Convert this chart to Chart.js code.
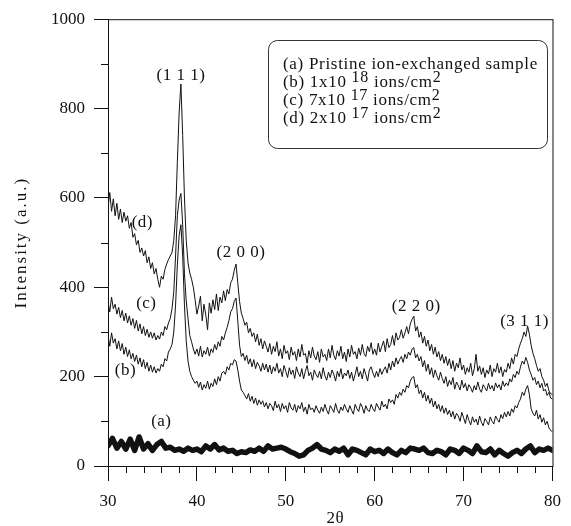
<!DOCTYPE html>
<html>
<head>
<meta charset="utf-8">
<script src="https://cdn.jsdelivr.net/npm/chart.js@4.4.0/dist/chart.umd.min.js"></script>
<style>
  html, body { margin: 0; padding: 0; background: #fff; }
</style>
</head>
<body>
<canvas id="xrd" width="571" height="526"></canvas>
<script>
// 2theta grid (deg): thin curves every 0.2, thick curve (a) every 0.5
const thetaStart = 30;
const thetaStep = 0.2;
const thetaStepA = 0.5;

// (d) 2x10^17 ions/cm2, one row per degree
const curveD = [
  578, 612, 570, 598, 560,
  588, 552, 575, 545, 568,
  548, 560, 532, 545, 512,
  520, 495, 505, 478, 488,
  470, 482, 455, 468, 442,
  455, 430, 442, 418, 400,
  425, 418, 440, 452, 462,
  470, 478, 505, 560, 680,
  790, 855, 740, 600, 505,
  455, 432, 418, 400, 372,
  340, 358, 380, 325, 362,
  338, 305, 365, 342, 372,
  350, 385, 348, 378, 365,
  392, 370, 395, 385, 410,
  418, 438, 452, 410, 368,
  342, 330, 315, 322, 298,
  308, 290, 298, 278, 295,
  270, 285, 262, 280, 268,
  255, 274, 250, 268, 256,
  278, 246, 262, 240, 270,
  252, 258, 238, 266, 248,
  256, 236, 262, 244, 272,
  248, 252, 230, 258, 242,
  266, 246, 238, 256, 232,
  262, 244, 250, 236, 262,
  242, 270, 248, 238, 258,
  246, 268, 240, 255, 234,
  262, 244, 270, 250, 256,
  240, 264, 248, 272, 252,
  245, 268, 256, 276, 250,
  262, 248, 275, 255, 268,
  280, 256, 285, 265, 272,
  292, 270, 298, 282, 288,
  305, 286, 298, 312, 296,
  318, 328, 335, 302, 312,
  288, 300, 275, 290, 268,
  282, 258, 272, 250, 266,
  244, 256, 236, 250, 230,
  245, 225, 240, 218, 236,
  212, 230, 220, 242, 215,
  226, 205, 220, 210, 230,
  202, 218, 250, 212, 224,
  205, 220, 198, 215, 206,
  226, 200, 218, 210, 230,
  208, 222, 200, 216, 210,
  230, 218, 242, 228, 250,
  245, 262, 275, 285, 300,
  290, 313, 295, 270, 252,
  240, 225, 212, 218, 200,
  192, 178, 185, 168, 162,
  160
];

// (c) 7x10^17 ions/cm2
const curveC = [
  368, 345, 378, 352, 362,
  340, 355, 332, 348, 325,
  342, 320, 336, 315, 330,
  308, 326, 302, 318, 296,
  312, 292, 306, 288, 300,
  286, 298, 282, 292, 284,
  300, 292, 312, 305, 320,
  330, 352, 390, 470, 560,
  595, 610, 540, 430, 370,
  330, 292, 278, 262, 250,
  262, 246, 268, 244, 258,
  250, 266, 246, 262, 254,
  272, 260, 278, 268, 290,
  282, 298, 310, 325, 345,
  352, 368, 376, 325, 270,
  245, 252, 236, 248, 228,
  240, 222, 238, 218, 232,
  224, 212, 230, 215, 228,
  210, 226, 206, 222, 212,
  230, 208, 218, 200, 225,
  212, 198, 220, 205, 215,
  196, 222, 208, 200, 218,
  195, 212, 225, 202, 210,
  192, 215, 205, 198, 212,
  195, 220, 202, 192, 210,
  198, 215, 205, 190, 212,
  200, 218, 195, 208, 202,
  215, 196, 210, 190, 205,
  222, 200, 212, 195, 218,
  205, 190, 215, 222, 208,
  198, 212, 200, 218, 205,
  215, 222, 208, 230, 215,
  235, 222, 242, 228, 238,
  245, 232, 250, 240, 255,
  248, 262, 265, 242, 250,
  235, 245, 222, 236, 212,
  228, 205, 220, 198, 215,
  202, 192, 210, 196, 185,
  200, 178, 192, 182, 198,
  172, 188, 180, 170, 192,
  175, 185, 168, 182, 175,
  165, 180, 170, 188, 172,
  165, 182, 175, 168, 185,
  172, 180, 168, 186, 175,
  182, 170, 190, 178, 186,
  180, 195, 188, 205, 198,
  212, 205, 222, 235, 228,
  243, 232, 215, 205, 192,
  198, 182, 190, 175, 185,
  168, 172, 158, 165, 152,
  150
];

// (b) 1x10^18 ions/cm2
const curveB = [
  292, 268, 298, 275, 285,
  262, 280, 258, 274, 250,
  266, 245, 260, 240, 252,
  234, 248, 228, 242, 222,
  238, 218, 232, 212, 226,
  210, 222, 208, 218, 212,
  228, 222, 240, 235, 255,
  262, 272, 300, 360, 450,
  515, 540, 470, 360, 280,
  235, 212, 200, 192, 185,
  190, 176, 188, 170, 182,
  174, 190, 172, 185, 178,
  195, 182, 200, 190, 208,
  212, 205, 222, 215, 230,
  226, 238, 235, 215, 190,
  170, 165, 158, 150, 162,
  145, 156, 140, 152, 136,
  148, 138, 146, 132, 142,
  128, 140, 135, 124, 145,
  130, 138, 122, 140, 128,
  135, 120, 142, 130, 125,
  138, 120, 135, 128, 142,
  122, 132, 116, 138, 126,
  130, 120, 135, 125, 118,
  132, 122, 138, 125, 116,
  135, 128, 120, 140, 125,
  118, 132, 124, 138, 128,
  120, 135, 125, 116, 138,
  128, 122, 140, 132, 118,
  135, 125, 122, 138, 128,
  122, 140, 132, 125, 145,
  132, 138, 128, 150, 142,
  148, 138, 160, 152, 165,
  158, 172, 165, 180, 175,
  190, 198, 200, 175, 182,
  162, 170, 152, 165, 145,
  158, 140, 152, 132, 145,
  128, 138, 122, 135, 118,
  130, 115, 125, 110, 122,
  105, 118, 112, 100, 120,
  108, 95, 115, 102, 92,
  110, 98, 105, 92, 112,
  98, 90, 106, 100, 92,
  110, 100, 94, 112, 104,
  98, 115, 106, 120, 110,
  122, 112, 128, 120, 135,
  130, 142, 150, 165, 158,
  172, 180, 160, 128, 118,
  112, 125, 105, 115, 98,
  108, 92, 100, 85, 80,
  76
];

// (a) pristine ion-exchanged sample, every 0.5 deg
const curveA = [
  45, 62, 40, 55, 38, 60, 35, 65, 38, 50,
  35, 48, 55, 40, 42, 35, 38, 33, 40, 35,
  38, 32, 45, 38, 48, 36, 40, 33, 35, 28,
  32, 30, 36, 33, 40, 33, 45, 38, 40, 42,
  38, 32, 28, 22, 25, 35, 40, 48, 38, 35,
  30, 38, 33, 40, 25, 38, 35, 30, 25, 38,
  32, 35, 28, 38, 30, 25, 35, 30, 40, 38,
  35, 40, 30, 28, 35, 32, 25, 38, 35, 28,
  40, 35, 28, 45, 32, 30, 38, 25, 35, 28,
  22, 30, 35, 28, 38, 45, 30, 38, 35, 40,
  35
];

const xMajorTicks = [30, 40, 50, 60, 70, 80];
const xMinorTicks = [32, 34, 36, 38, 42, 44, 46, 48, 52, 54, 56, 58, 62, 64, 66, 68, 72, 74, 76, 78];
const yMajorTicks = [0, 200, 400, 600, 800, 1000];
const yMinorTicks = [100, 300, 500, 700, 900];

const peakNames = ['(1 1 1)', '(2 0 0)', '(2 2 0)', '(3 1 1)'];
const curveNames = ['(a)', '(b)', '(c)', '(d)'];
const legendLines = [
  [['(a) Pristine ion-exchanged sample', false]],
  [['(b) 1x10 ', false], ['18', true], [' ions/cm', false], ['2', true]],
  [['(c) 7x10 ', false], ['17', true], [' ions/cm', false], ['2', true]],
  [['(d) 2x10 ', false], ['17', true], [' ions/cm', false], ['2', true]]
];
const xTitle = '2θ';
const yTitle = 'Intensity (a.u.)';

const ink = '#111';
const serif = '"Liberation Serif", "Times New Roman", serif';

const toPoints = (values, step) => values.map((v, i) => ({ x: thetaStart + i * step, y: v }));

// where the text labels sit, in data units
const peakAt = [[38.2, 875], [44.95, 477], [64.66, 357], [76.86, 324]];
const curveAt = [[36.0, 100], [31.96, 213], [34.31, 364], [33.86, 546]];

const decorations = {
  id: 'decorations',
  afterDraw(chart) {
    const { ctx, chartArea: a, scales: { x, y } } = chart;
    ctx.save();
    ctx.strokeStyle = ink;
    ctx.lineWidth = 1;
    // frame
    ctx.strokeRect(a.left + 0.5, a.top + 0.5, a.right - a.left, a.bottom - a.top);
    // minor ticks
    ctx.beginPath();
    xMinorTicks.forEach(v => {
      const px = Math.round(x.getPixelForValue(v)) + 0.5;
      ctx.moveTo(px, a.bottom);
      ctx.lineTo(px, a.bottom + 7);
    });
    yMinorTicks.forEach(v => {
      const py = Math.round(y.getPixelForValue(v)) + 0.5;
      ctx.moveTo(a.left - 7, py);
      ctx.lineTo(a.left, py);
    });
    ctx.stroke();

    ctx.fillStyle = ink;
    ctx.font = '17px ' + serif;
    ctx.textAlign = 'center';
    ctx.textBaseline = 'middle';
    ctx.letterSpacing = '0.5px';
    peakNames.forEach((t, i) => {
      ctx.fillText(t, x.getPixelForValue(peakAt[i][0]), y.getPixelForValue(peakAt[i][1]));
    });
    curveNames.forEach((t, i) => {
      ctx.fillText(t, x.getPixelForValue(curveAt[i][0]), y.getPixelForValue(curveAt[i][1]));
    });

    // axis titles
    ctx.fillText(xTitle, (a.left + a.right) / 2 + 5, 519);
    ctx.save();
    ctx.translate(22, (a.top + a.bottom) / 2);
    ctx.rotate(-Math.PI / 2);
    ctx.letterSpacing = '2px';
    ctx.fillText(yTitle, 0, 0);
    ctx.restore();

    // legend box
    const bx = 268, by = 40, bw = 279, bh = 108;
    ctx.beginPath();
    ctx.roundRect(bx + 0.5, by + 0.5, bw, bh, 9);
    ctx.strokeStyle = '#333';
    ctx.stroke();
    ctx.textAlign = 'left';
    ctx.letterSpacing = '0.7px';
    legendLines.forEach((parts, i) => {
      let tx = 283;
      const ty = 65 + i * 18;
      parts.forEach(([t, sup]) => {
        ctx.font = (sup ? '16px ' : '17px ') + serif;
        ctx.fillText(t, tx, sup ? ty - 5 : ty);
        tx += ctx.measureText(t).width;
      });
    });
    ctx.restore();
  }
};

const thin = { borderColor: ink, borderWidth: 1, pointRadius: 0, tension: 0, fill: false };

new Chart(document.getElementById('xrd'), {
  type: 'line',
  data: {
    datasets: [
      { ...thin, label: 'd', data: toPoints(curveD, thetaStep) },
      { ...thin, label: 'c', data: toPoints(curveC, thetaStep) },
      { ...thin, label: 'b', data: toPoints(curveB, thetaStep) },
      { ...thin, label: 'a', data: toPoints(curveA, thetaStepA), borderWidth: 5.5, borderJoinStyle: 'round', borderCapStyle: 'round' }
    ]
  },
  options: {
    responsive: false,
    animation: false,
    layout: { padding: { left: 0, top: 15, right: 16, bottom: 0 } },
    scales: {
      x: {
        type: 'linear',
        min: 30,
        max: 80,
        afterFit: s => { s.height = 60; },
        afterBuildTicks: s => { s.ticks = xMajorTicks.map(v => ({ value: v })); },
        grid: { drawOnChartArea: false, tickLength: 15, color: ink, tickColor: ink },
        border: { color: ink },
        ticks: { font: { family: serif, size: 17 }, color: ink, padding: 10, maxRotation: 0 }
      },
      y: {
        min: 0,
        max: 1000,
        afterFit: s => { s.width = 108; },
        afterBuildTicks: s => { s.ticks = yMajorTicks.map(v => ({ value: v })); },
        grid: { drawOnChartArea: false, tickLength: 14, color: ink, tickColor: ink },
        border: { color: ink },
        ticks: { font: { family: serif, size: 17 }, color: ink, padding: 9, callback: v => String(v) }
      }
    },
    plugins: {
      legend: { display: false },
      tooltip: { enabled: false }
    }
  },
  plugins: [decorations]
});
</script>
</body>
</html>
